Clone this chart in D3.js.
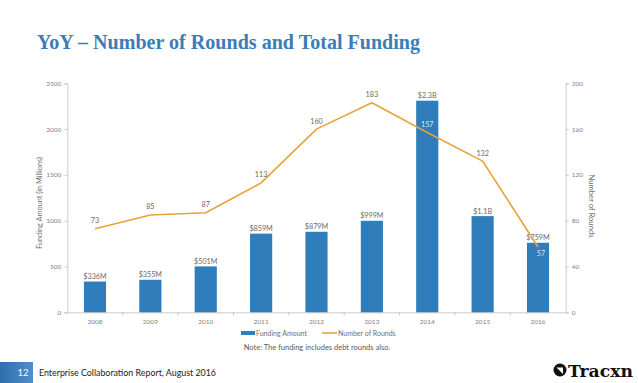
<!DOCTYPE html>
<html><head><meta charset="utf-8">
<script src="https://cdn.jsdelivr.net/npm/d3@7"></script>
<style>
html,body{margin:0;padding:0;background:#fff;}
svg{display:block;}
</style></head>
<body>
<script>
const years = ["2008","2009","2010","2011","2012","2013","2014","2015","2016"];
const funding = [336, 355, 501, 859, 879, 999, 2310, 1050, 759];
const fundingLabels = ["$336M","$355M","$501M","$859M","$879M","$999M","$2.3B","$1.1B","$759M"];
const rounds = [73, 85, 87, 113, 160, 183, 157, 132, 57];
const leftTicks = [0, 500, 1000, 1500, 2000, 2500];
const rightTicks = [0, 40, 80, 120, 160, 200];

const W = 638, H = 383;
const svg = d3.select("body").append("svg").attr("width", W).attr("height", H);
const font = "Lato, 'Open Sans', 'Liberation Sans', sans-serif";

const x = d3.scaleBand().domain(years).range([67.3, 565.7]).padding(0);
const yL = d3.scaleLinear().domain([0, 2500]).range([312.3, 83.3]);
const yR = d3.scaleLinear().domain([0, 200]).range([312.3, 83.3]);

// title
svg.append("text").attr("x", 37).attr("y", 49)
  .attr("font-family", "'Liberation Serif', 'DejaVu Serif', serif")
  .attr("font-weight", "bold").attr("font-size", 21)
  .attr("fill", "#3B7DB6")
  .attr("textLength", 383).attr("lengthAdjust", "spacingAndGlyphs")
  .text("YoY – Number of Rounds and Total Funding");

const axisColor = "#BFBFBF", labColor = "#7F7F7F";

const gL = svg.append("g").attr("transform", "translate(67.3,0)")
  .call(d3.axisLeft(yL).tickValues(leftTicks).tickSize(3).tickPadding(3).tickFormat(d3.format("d")));
const gR = svg.append("g").attr("transform", "translate(565.7,0)")
  .call(d3.axisRight(yR).tickValues(rightTicks).tickSize(3).tickPadding(3).tickFormat(d3.format("d")));
const gB = svg.append("g").attr("transform", "translate(0,312.3)")
  .call(d3.axisBottom(x).tickSize(0).tickPadding(7));
svg.append("g").selectAll("line").data(years.slice(1)).join("line")
  .attr("x1", d => x(d)).attr("x2", d => x(d))
  .attr("y1", 312.3).attr("y2", 315.5).attr("stroke", axisColor).attr("stroke-width", 0.8);

[gL, gR, gB].forEach(g => {
  g.selectAll("path.domain").attr("stroke", axisColor).attr("stroke-width", 0.8);
  g.selectAll(".tick line").attr("stroke", axisColor).attr("stroke-width", 0.8);
  g.selectAll(".tick text").attr("fill", labColor).attr("font-family", font).attr("font-size", 6.5);
});
gB.select("path.domain").attr("d", "M67.3,0.5H565.7");

// axis titles
svg.append("text").attr("transform", "translate(42,203) rotate(-90)")
  .attr("text-anchor", "middle").attr("font-family", font).attr("font-size", 7.5).attr("fill", "#6F6F6F")
  .attr("textLength", 92).attr("lengthAdjust", "spacingAndGlyphs")
  .text("Funding Amount (in Millions)");
svg.append("text").attr("transform", "translate(589,206) rotate(90)")
  .attr("text-anchor", "middle").attr("font-family", font).attr("font-size", 7.5).attr("fill", "#6F6F6F")
  .attr("textLength", 63).attr("lengthAdjust", "spacingAndGlyphs")
  .text("Number of Rounds");

// bars
const barColor = "#2F7DBB";
const bw = x.bandwidth() * 0.4;
svg.append("g").selectAll("rect").data(years).join("rect")
  .attr("x", d => x(d) + x.bandwidth() / 2 - bw / 2)
  .attr("width", bw)
  .attr("y", (d, i) => yL(funding[i]))
  .attr("height", (d, i) => yL(0) - yL(funding[i]))
  .attr("fill", barColor);

svg.append("g").selectAll("text").data(years).join("text")
  .attr("x", d => x(d) + x.bandwidth() / 2)
  .attr("y", (d, i) => yL(funding[i]) - 2.5)
  .attr("text-anchor", "middle").attr("font-family", font).attr("font-size", 7.2).attr("fill", "#6A6A6A")
  .text((d, i) => fundingLabels[i]);

// line
const lineColor = "#E9A23A";
const line = d3.line().x((d, i) => x(years[i]) + x.bandwidth() / 2).y(d => yR(d));
svg.append("path").datum(rounds).attr("d", line)
  .attr("fill", "none").attr("stroke", lineColor).attr("stroke-width", 1.6).attr("stroke-linejoin", "round");

svg.append("g").selectAll("text").data(rounds).join("text")
  .attr("x", (d, i) => x(years[i]) + x.bandwidth() / 2 + (i === 8 ? 3 : 0))
  .attr("y", (d, i) => i === 8 ? yR(d) + 9 : yR(d) - 5.5)
  .attr("text-anchor", "middle").attr("font-family", font).attr("font-size", 7.2)
  .attr("fill", (d, i) => (i === 6 || i === 8) ? "#D8E8F6" : "#6A6A6A")
  .text(d => d);

// legend
const lg = svg.append("g");
lg.append("rect").attr("x", 241).attr("y", 331).attr("width", 14).attr("height", 4).attr("fill", barColor);
lg.append("text").attr("x", 256).attr("y", 335.5).attr("font-family", font).attr("font-size", 7).attr("fill", "#6F6F6F").text("Funding Amount");
lg.append("line").attr("x1", 322).attr("x2", 337).attr("y1", 333).attr("y2", 333).attr("stroke", lineColor).attr("stroke-width", 1.6);
lg.append("text").attr("x", 338).attr("y", 335.5).attr("font-family", font).attr("font-size", 7).attr("fill", "#6F6F6F").text("Number of Rounds");

svg.append("text").attr("x", 317).attr("y", 350).attr("text-anchor", "middle")
  .attr("font-family", font).attr("font-size", 7.5).attr("fill", "#5A5A5A")
  .text("Note: The funding includes debt rounds also.");

// footer
const defs = svg.append("defs");
const grad = defs.append("linearGradient").attr("id", "fg").attr("x1", "0").attr("x2", "1").attr("y1", "0").attr("y2", "0");
grad.append("stop").attr("offset", "0").attr("stop-color", "#2E6EAD");
grad.append("stop").attr("offset", "1").attr("stop-color", "#4F8FCB");
svg.append("rect").attr("x", 0).attr("y", 362).attr("width", 33).attr("height", 21).attr("fill", "url(#fg)");
svg.append("text").attr("x", 23).attr("y", 376).attr("text-anchor", "middle")
  .attr("font-family", font).attr("font-size", 9.5).attr("fill", "#fff").text("12");
svg.append("text").attr("x", 39).attr("y", 376)
  .attr("font-family", font).attr("font-size", 9.5).attr("fill", "#222")
  .attr("textLength", 177).attr("lengthAdjust", "spacingAndGlyphs")
  .text("Enterprise Collaboration Report, August 2016");

// logo
const logo = svg.append("g");
logo.append("circle").attr("cx", 560).attr("cy", 370).attr("r", 6.5).attr("fill", "#111");
logo.append("path").attr("d", "M556.5,367.5 L563,367.5 L563,374 Z").attr("fill", "#fff");
logo.append("text").attr("x", 568).attr("y", 376.5)
  .attr("font-family", "'DejaVu Serif', 'Liberation Serif', serif").attr("font-weight", "bold")
  .attr("font-size", 16).attr("fill", "#111")
  .attr("textLength", 65).attr("lengthAdjust", "spacingAndGlyphs").text("Tracxn");
</script>
</body></html>
